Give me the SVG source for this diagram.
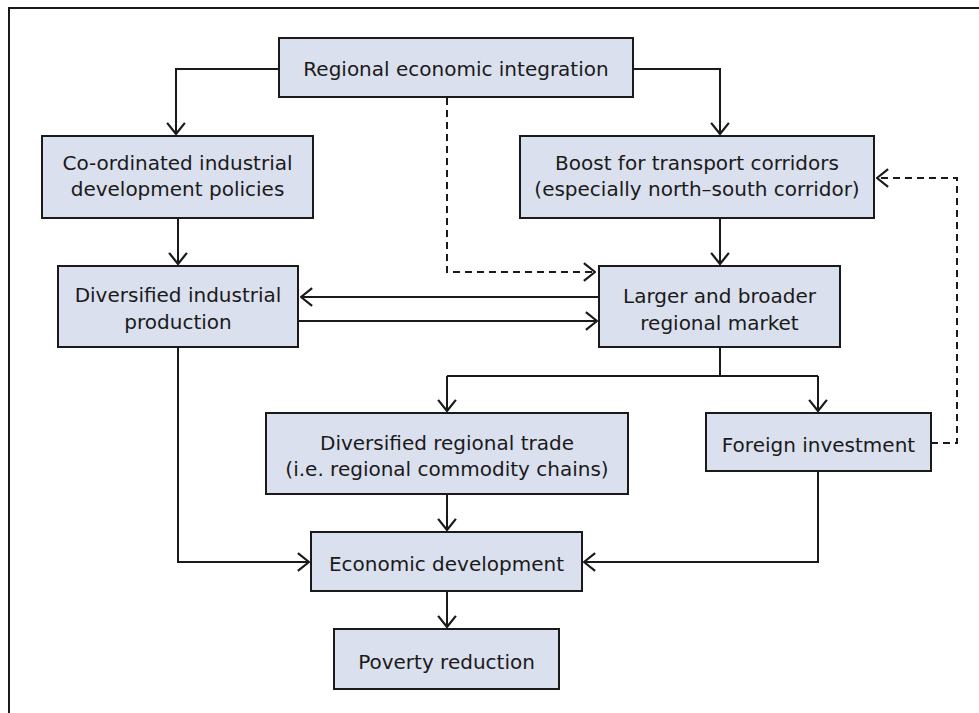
<svg xmlns="http://www.w3.org/2000/svg" width="979" height="713" viewBox="0 0 979 713">
<style>
.box{fill:#dbe0ee;stroke:#1a1a1a;stroke-width:2}
.t{font-family:"DejaVu Sans","Open Sans",sans-serif;font-size:20px;fill:#1a1a1a;text-anchor:middle}
.c{fill:none;stroke:#1a1a1a;stroke-width:2}
.d{fill:none;stroke:#1a1a1a;stroke-width:2;stroke-dasharray:7,5}
</style>
<defs>
<marker id="ah" markerUnits="userSpaceOnUse" markerWidth="14" markerHeight="20" viewBox="0 0 12 18" refX="11" refY="9" orient="auto">
<path d="M1,1 L11,9 L1,17" fill="none" stroke="#1a1a1a" stroke-width="2"/>
</marker>
</defs>
<rect width="979" height="713" fill="#ffffff"/>
<polyline points="9,713 9,8 979,8" fill="none" stroke="#1a1a1a" stroke-width="2"/>
<g id="connectors">
<path class="c" d="M279,69 H176 V134" marker-end="url(#ah)"/>
<path class="c" d="M633,69 H720 V134" marker-end="url(#ah)"/>
<path class="d" d="M447,98 V272 H595" marker-end="url(#ah)"/>
<path class="c" d="M178,218 V264" marker-end="url(#ah)"/>
<path class="c" d="M720,218 V264" marker-end="url(#ah)"/>
<path class="c" d="M599,297 H301" marker-end="url(#ah)"/>
<path class="c" d="M298,321 H597" marker-end="url(#ah)"/>
<path class="c" d="M720,347 V376 M447,376 H818"/>
<path class="c" d="M447,376 V411" marker-end="url(#ah)"/>
<path class="c" d="M818,376 V411" marker-end="url(#ah)"/>
<path class="d" d="M931,443 H957 V178 H877" marker-end="url(#ah)"/>
<path class="c" d="M178,347 V562 H309" marker-end="url(#ah)"/>
<path class="c" d="M447,494 V530" marker-end="url(#ah)"/>
<path class="c" d="M818,471 V562 H584" marker-end="url(#ah)"/>
<path class="c" d="M447,591 V627" marker-end="url(#ah)"/>
</g>
<g id="n1"><rect class="box" x="279" y="38" width="354" height="59"/><text class="t" x="456" y="76">Regional economic integration</text></g>
<g id="n2"><rect class="box" x="42" y="136" width="271" height="82"/><text class="t" x="177.5" y="170">Co-ordinated industrial</text><text class="t" x="177.5" y="196">development policies</text></g>
<g id="n3"><rect class="box" x="520" y="136" width="354" height="82"/><text class="t" x="697" y="170">Boost for transport corridors</text><text class="t" x="697" y="196">(especially north–south corridor)</text></g>
<g id="n4"><rect class="box" x="58" y="266" width="240" height="81"/><text class="t" x="178" y="302">Diversified industrial</text><text class="t" x="178" y="329">production</text></g>
<g id="n5"><rect class="box" x="599" y="266" width="241" height="81"/><text class="t" x="719.5" y="303">Larger and broader</text><text class="t" x="719.5" y="330">regional market</text></g>
<g id="n6"><rect class="box" x="266" y="413" width="362" height="81"/><text class="t" x="447" y="450">Diversified regional trade</text><text class="t" x="447" y="476">(i.e. regional commodity chains)</text></g>
<g id="n7"><rect class="box" x="706" y="413" width="225" height="58"/><text class="t" x="818.5" y="452">Foreign investment</text></g>
<g id="n8"><rect class="box" x="311" y="532" width="271" height="59"/><text class="t" x="446.5" y="571">Economic development</text></g>
<g id="n9"><rect class="box" x="334" y="629" width="225" height="60"/><text class="t" x="446.5" y="669">Poverty reduction</text></g>
</svg>
